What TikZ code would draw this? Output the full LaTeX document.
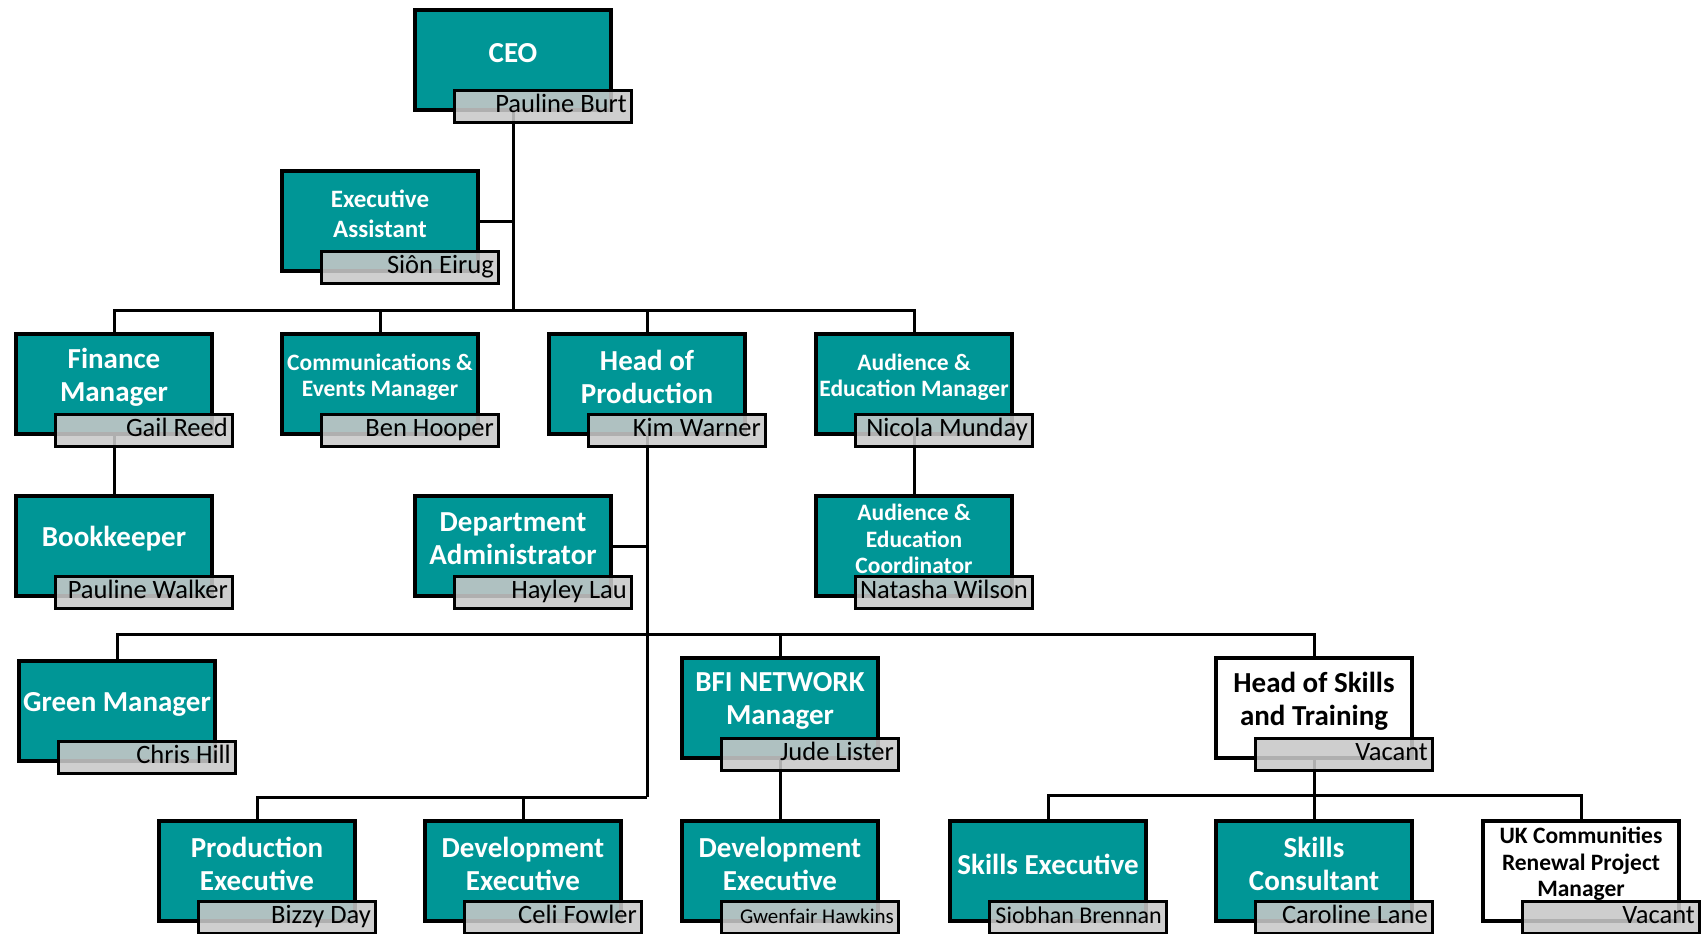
\documentclass[tikz,border=0pt]{standalone}
\usepackage{fontspec}
\setmainfont{Carlito}
\usetikzlibrary{backgrounds}
\definecolor{orgteal}{RGB}{0,150,150}
\definecolor{namegray}{RGB}{200,200,200}
\newcommand{\ttlA}{\fontsize{29}{33}\selectfont\bfseries}
\newcommand{\ttlB}{\fontsize{25}{30}\selectfont\bfseries}
\newcommand{\ttlC}{\fontsize{23.5}{26.5}\selectfont\bfseries}

\begin{document}
\begin{tikzpicture}[x=1pt, y=-1pt,
  rolebox/.style={draw, line width=4pt, minimum width=196pt, minimum height=100pt, inner sep=0pt},
  rolettl/.style={align=center, inner sep=0pt},
  rolename/.style={draw, line width=3pt, fill=namegray, fill opacity=0.88,
    minimum width=177pt, minimum height=32pt, inner sep=0pt},
  holder/.style={anchor=east, inner sep=0pt, text height=18pt, text depth=5pt,
    font=\fontsize{26.5}{30}\selectfont},
  link/.style={draw=black, line width=3pt}]
  \useasboundingbox (0,0) rectangle (1708,934);
  % one box per post: centre / name / title font / fill / text colour / title / holder
  \foreach \x/\y/\id/\fs/\fc/\tc/\role/\person in {
      513/60/ceo/\ttlA/orgteal/white/{CEO}/{Pauline Burt},
      380/221/ea/\ttlB/orgteal/white/{Executive\\Assistant}/{Siôn Eirug},
      114/384/fin/\ttlA/orgteal/white/{Finance\\Manager}/{Gail Reed},
      380/384/com/\ttlC/orgteal/white/{Communications \&\\Events Manager}/{Ben Hooper},
      647/384/hop/\ttlA/orgteal/white/{Head of\\Production}/{Kim Warner},
      914/384/aud/\ttlC/orgteal/white/{Audience \&\\Education Manager}/{Nicola Munday},
      114/546/bk/\ttlA/orgteal/white/{Bookkeeper}/{Pauline Walker},
      513/546/da/\ttlA/orgteal/white/{Department\\Administrator}/{Hayley Lau},
      914/546/ac/\ttlC/orgteal/white/{Audience \&\\Education\\Coordinator}/{Natasha Wilson},
      117/711/grn/\ttlA/orgteal/white/{Green Manager}/{Chris Hill},
      780/708/bfi/\ttlA/orgteal/white/{BFI NETWORK\\Manager}/{Jude Lister},
      1314/708/hst/\ttlA/white/black/{Head of Skills\\and Training}/{Vacant},
      257/871/pe/\ttlA/orgteal/white/{Production\\Executive}/{Bizzy Day},
      523/871/de/\ttlA/orgteal/white/{Development\\Executive}/{Celi Fowler},
      780/871/dx/\ttlA/orgteal/white/{Development\\Executive}/{\fontsize{21}{24}\selectfont Gwenfair Hawkins},
      1048/871/se/\ttlA/orgteal/white/{Skills Executive}/{\fontsize{24}{28}\selectfont Siobhan Brennan},
      1314/871/sc/\ttlA/orgteal/white/{Skills\\Consultant}/{Caroline Lane},
      1581/871/uk/\ttlC/white/black/{UK Communities\\Renewal Project\\Manager}/{Vacant}}{
    \node[rolebox, fill=\fc] (\id) at (\x,\y) {};
    \node[rolettl, font=\fs, text=\tc] (\id-r) at ([yshift=7pt]\id.center) {\role};
    \node[rolename] (\id-n) at ([xshift=30pt, yshift=-46pt]\id.center) {};
    \node[holder] (\id-p) at ([xshift=-6pt]\id-n.east) {\person};
  }
  \coordinate (busA) at (513,310);
  \coordinate (busB) at (647,634);
  \coordinate (busC) at (647,797);
  \coordinate (busD) at (1314,795);
  % reporting lines sit behind the see-through name tabs
  \begin{pgfonlayer}{background}
    \draw[link] (ceo.south) -- (busA);
    \draw[link] (ea.east) -- (ea.east -| ceo.south);
    \draw[link] (fin.north) |- (busA) -| (aud.north);
    \draw[link] (com.north) -- (com.north |- busA);
    \draw[link] (hop.north) -- (hop.north |- busA);
    \draw[link] (fin.south) -- (bk.north);
    \draw[link] (aud.south) -- (ac.north);
    \draw[link] (hop.south) -- (busC);
    \draw[link] (da.east) -- (da.east -| hop.south);
    \draw[link] (grn.north) |- (busB) -| (hst.north);
    \draw[link] (bfi.north) -- (bfi.north |- busB);
    \draw[link] (pe.north) |- (busC);
    \draw[link] (de.north) -- (de.north |- busC);
    \draw[link] (bfi.south) -- (dx.north);
    \draw[link] (hst.south) -- (busD);
    \draw[link] (se.north) |- (busD) -| (uk.north);
    \draw[link] (sc.north) -- (sc.north |- busD);
  \end{pgfonlayer}
\end{tikzpicture}
\end{document}
